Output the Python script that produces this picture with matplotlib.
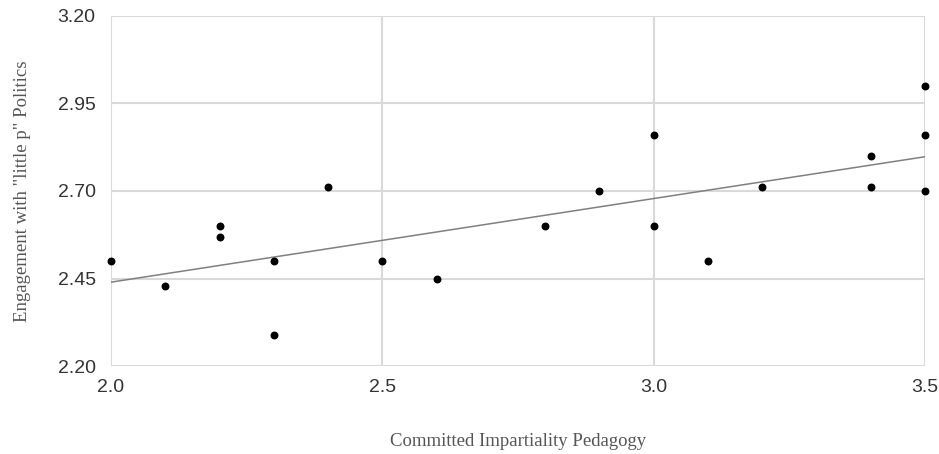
import numpy as np
import matplotlib.pyplot as plt

# data
x_vals = [2.0, 2.1, 2.2, 2.2, 2.3, 2.3, 2.4, 2.5, 2.6, 2.8,
          2.9, 3.0, 3.0, 3.1, 3.2, 3.4, 3.4, 3.5, 3.5, 3.5]
y_vals = [2.50, 2.43, 2.60, 2.57, 2.50, 2.29, 2.71, 2.50, 2.45, 2.60,
          2.70, 2.86, 2.60, 2.50, 2.71, 2.80, 2.71, 3.00, 2.86, 2.70]
x_ticks = [2.0, 2.5, 3.0, 3.5]
y_ticks = [2.20, 2.45, 2.70, 2.95, 3.20]

x_label = "Committed Impartiality Pedagogy"
y_label = 'Engagement with "little p" Politics'

fig = plt.figure(figsize=(9.39, 4.54), dpi=100)
ax = fig.add_axes([0.1182, 0.1938, 0.867, 0.771])

ax.scatter(x_vals, y_vals, s=22, color="black", zorder=3, clip_on=False)

# linear trend line
slope, intercept = np.polyfit(x_vals, y_vals, 1)
xs = np.array([x_ticks[0], x_ticks[-1]])
ax.plot(xs, slope * xs + intercept, color="#808080", lw=1.1, zorder=2)

ax.set_xlim(x_ticks[0], x_ticks[-1])
ax.set_ylim(y_ticks[0], y_ticks[-1])
ax.set_xticks(x_ticks)
ax.set_xticklabels([f"{v:.1f}" for v in x_ticks])
ax.set_yticks(y_ticks)
ax.set_yticklabels([f"{v:.2f}" for v in y_ticks])

for s in ax.spines.values():
    s.set_visible(False)
ax.grid(True, color="#d9d9d9", lw=1.5, zorder=0)
ax.set_axisbelow(True)
ax.tick_params(length=0, labelsize=14, labelcolor="#333333")
ax.tick_params(axis="y", pad=11)
ax.tick_params(axis="x", pad=9)
for lab in ax.get_xticklabels() + ax.get_yticklabels():
    lab.set_family("Liberation Sans")

ax.set_xlabel(x_label, family="Liberation Serif", fontsize=13.5,
              color="#555555", labelpad=27)
ax.set_ylabel(y_label, family="Liberation Serif", fontsize=13.5,
              color="#555555", labelpad=19)

fig.savefig("out.png", dpi=100)
